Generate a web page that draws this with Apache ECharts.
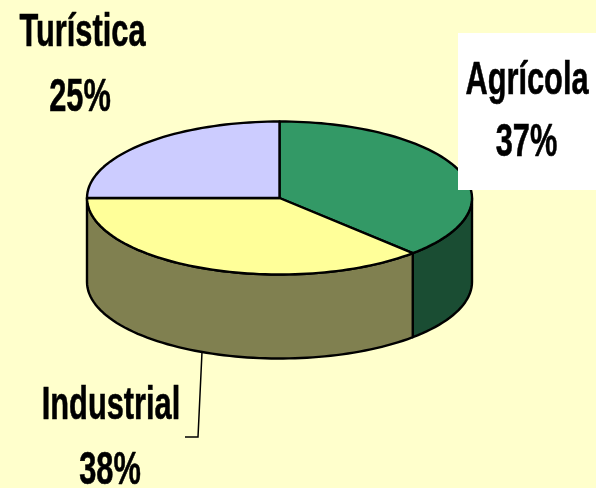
<!DOCTYPE html>
<html><head><meta charset="utf-8">
<style>html,body{margin:0;padding:0;background:#FFFFCC}#c{width:596px;height:488px}</style>
<script src="https://cdn.jsdelivr.net/npm/echarts@6/dist/echarts.min.js"></script>
</head><body><div id="c"></div>
<script>
const categories = ['Agrícola', 'Industrial', 'Turística'];
const shares = [37, 38, 25];
const topColors = ['#339966', '#FFFF99', '#CCCCFF'];
const sideColors = ['#1A4D33', '#808050', '#666680'];

const cx = 279.5, cy = 198, rx = 192.5, ry = 76.5, depth = 84, tilt = 3;
const total = shares.reduce((a, b) => a + b, 0);
const starts = shares.map((_, i) => shares.slice(0, i).reduce((a, b) => a + b, 0));
// view projection: a slight perspective skew of the angle around the ellipse
const view = deg => deg - tilt * Math.sin(2 * deg * Math.PI / 180);
const px = (deg, dy) => {
  const r = view(deg) * Math.PI / 180;
  return [cx + rx * Math.sin(r), cy - ry * Math.cos(r) + (dy || 0)];
};
const arc = (a, b, dy) => {
  const pts = [];
  const n = Math.max(1, Math.ceil((b - a) / 2));
  for (let k = 0; k <= n; k++) pts.push(px(a + (b - a) * k / n, dy));
  return pts;
};
const lineStyle = { stroke: '#000', lineWidth: 2.4, lineJoin: 'round' };

function renderTop(params, api) {
  const a = api.value(1) / total * 360, b = a + api.value(2) / total * 360;
  return { type: 'polygon', shape: { points: [[cx, cy]].concat(arc(a, b)) },
    style: Object.assign({ fill: topColors[params.dataIndex] }, lineStyle) };
}
function renderSide(params, api) {
  const a = Math.max(api.value(1) / total * 360, 90);
  const b = Math.min((api.value(1) + api.value(2)) / total * 360, 270);
  if (b <= a) return null;
  const pts = arc(a, b).concat(arc(a, b, depth).reverse());
  return { type: 'polygon', shape: { points: pts },
    style: Object.assign({ fill: sideColors[params.dataIndex] }, lineStyle) };
}
const rows = categories.map((c, i) => [c, starts[i], shares[i]]);
const font = 'bold 47px "Liberation Sans", Arial, sans-serif';
const oneText = (text, x, y) => ({ type: 'text', z: 20, x, y, scaleX: 0.655,
  style: { text, x: 0, y: 0, font, fill: '#000', stroke: '#000', lineWidth: 0.6, textAlign: 'center', textVerticalAlign: 'middle' } });
const label = (i, x, y1, x2, y2) => [oneText(categories[i], x, y1), oneText(shares[i] + '%', x2, y2)];
const chart = echarts.init(document.getElementById('c'), null, { renderer: 'canvas', width: 596, height: 488 });
chart.setOption({
  animation: false,
  backgroundColor: '#FFFFCC',
  series: [
    { type: 'custom', coordinateSystem: 'none', z: 2, data: rows, renderItem: renderSide, silent: true },
    { type: 'custom', coordinateSystem: 'none', z: 3, data: rows, renderItem: renderTop, silent: true }
  ],
  graphic: { elements: [
    { type: 'rect', z: 10, shape: { x: 458, y: 33, width: 138, height: 157 }, style: { fill: '#FFFFFF' } },
    { type: 'polyline', z: 10, shape: { points: [[202, 352], [198, 437], [185, 437]] }, style: { stroke: '#000', lineWidth: 1.5, fill: null } },
    ...label(0, 527, 81, 526.5, 143),
    ...label(1, 111, 406, 110, 471),
    ...label(2, 82.5, 33, 80, 98)
  ] }
});
</script></body></html>
